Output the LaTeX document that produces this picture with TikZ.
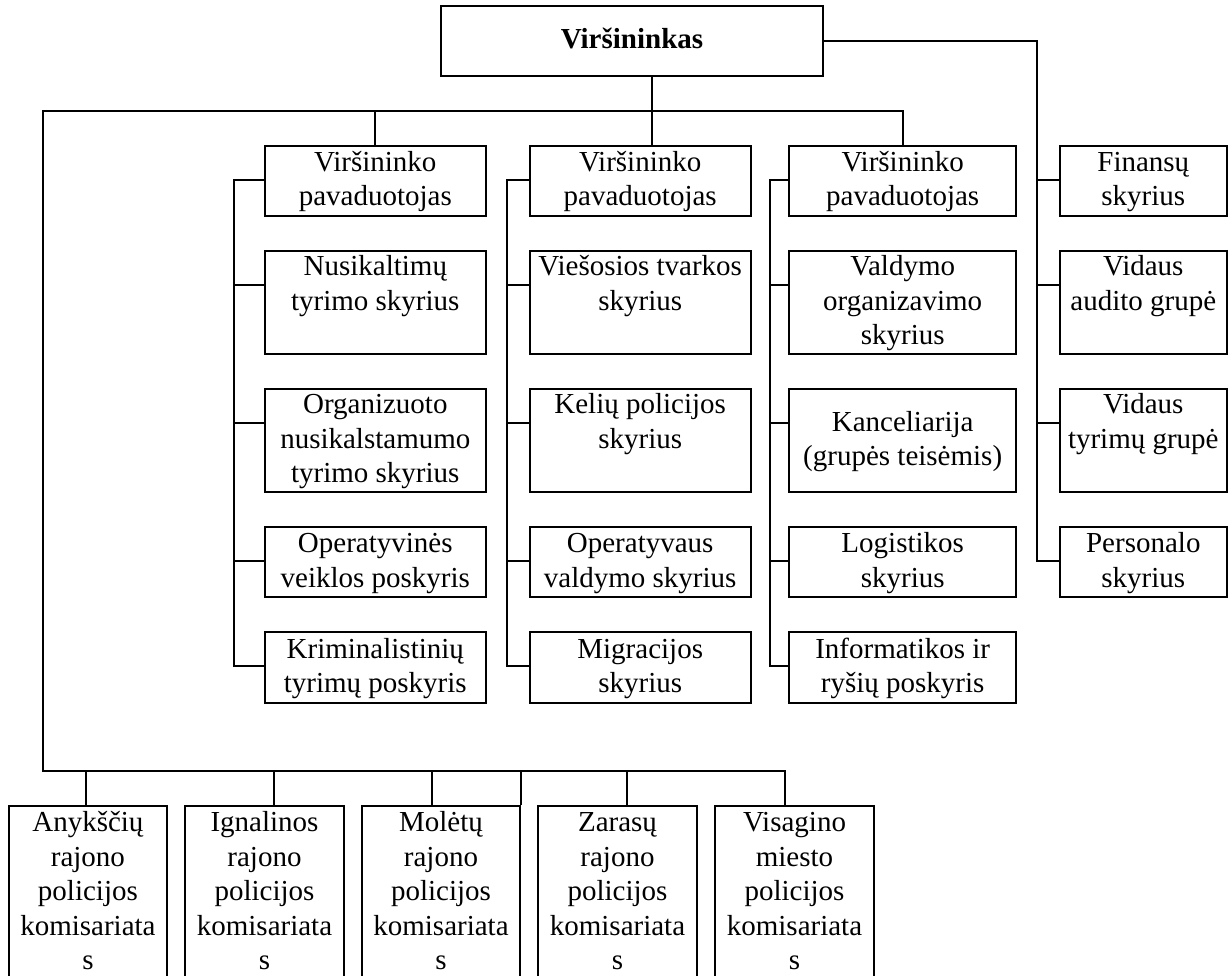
\documentclass[tikz,border=0pt]{standalone}
\usepackage{fontspec}
\setmainfont{Liberation Serif}
\newcommand{\ls}{\rule[-9.5pt]{0pt}{34.5pt}}
\begin{document}
\begin{tikzpicture}[x=1pt,y=-1pt,
  box/.style={draw, line width=2pt, inner sep=0pt, align=center,
    font=\fontsize{29}{34.5}\selectfont},
  conn/.style={line width=2pt}]
\path[use as bounding box] (0,0) rectangle (1232,976);
\clip (0,0) rectangle (1232,976);
\fill[white] (0,0) rectangle (1232,976);

% top box
\node[box, minimum width=382pt, minimum height=70.3pt] (T) at (632,40.85) {\ls\textbf{Viršininkas}};

% column 1
\node[box, minimum width=221pt, minimum height=70pt]  (A1) at (375.3,181)   {\ls Viršininko\\\ls pavaduotojas};
\node[box, minimum width=221pt, minimum height=101pt] (A2) at (375.3,302.5) {\ls Nusikaltimų\\\ls tyrimo skyrius\\\ls};
\node[box, minimum width=221pt, minimum height=103pt] (A3) at (375.3,440.5) {\ls Organizuoto\\\ls nusikalstamumo\\\ls tyrimo skyrius};
\node[box, minimum width=221pt, minimum height=70pt]  (A4) at (375.3,562)   {\ls Operatyvinės\\\ls veiklos poskyris};
\node[box, minimum width=221pt, minimum height=71pt]  (A5) at (375.3,667.5) {\ls Kriminalistinių\\\ls tyrimų poskyris};

% column 2
\node[box, minimum width=221pt, minimum height=70pt]  (B1) at (640.2,181)   {\ls Viršininko\\\ls pavaduotojas};
\node[box, minimum width=221pt, minimum height=101pt] (B2) at (640.2,302.5) {\ls Viešosios tvarkos\\\ls skyrius\\\ls};
\node[box, minimum width=221pt, minimum height=103pt] (B3) at (640.2,440.5) {\ls Kelių policijos\\\ls skyrius\\\ls};
\node[box, minimum width=221pt, minimum height=70pt]  (B4) at (640.2,562)   {\ls Operatyvaus\\\ls valdymo skyrius};
\node[box, minimum width=221pt, minimum height=71pt]  (B5) at (640.2,667.5) {\ls Migracijos\\\ls skyrius};

% column 3
\node[box, minimum width=226.6pt, minimum height=70pt]  (C1) at (902.7,181)   {\ls Viršininko\\\ls pavaduotojas};
\node[box, minimum width=226.6pt, minimum height=101pt] (C2) at (902.7,302.5) {\ls Valdymo\\\ls organizavimo\\\ls skyrius};
\node[box, minimum width=226.6pt, minimum height=103pt] (C3) at (902.7,440.5) {\ls Kanceliarija\\\ls (grupės teisėmis)};
\node[box, minimum width=226.6pt, minimum height=70pt]  (C4) at (902.7,562)   {\ls Logistikos\\\ls skyrius};
\node[box, minimum width=226.6pt, minimum height=71pt]  (C5) at (902.7,667.5) {\ls Informatikos ir\\\ls ryšių poskyris};

% column 4
\node[box, minimum width=167.4pt, minimum height=70pt]  (F1) at (1143.3,181)   {\ls Finansų\\\ls skyrius};
\node[box, minimum width=167.4pt, minimum height=101pt] (F2) at (1143.3,302.5) {\ls Vidaus\\\ls audito grupė\\\ls};
\node[box, minimum width=167.4pt, minimum height=103pt] (F3) at (1143.3,440.5) {\ls Vidaus\\\ls tyrimų grupė\\\ls};
\node[box, minimum width=167.4pt, minimum height=70pt]  (F4) at (1143.3,562)   {\ls Personalo\\\ls skyrius};

% bottom row
\node[box, minimum width=158pt, minimum height=174.5pt] (P1) at (87.9,892.95)  {\ls Anykščių\\\ls rajono\\\ls policijos\\\ls komisariata\\\ls s};
\node[box, minimum width=159pt, minimum height=174.5pt] (P2) at (264.5,892.95) {\ls Ignalinos\\\ls rajono\\\ls policijos\\\ls komisariata\\\ls s};
\node[box, minimum width=158pt, minimum height=174.5pt] (P3) at (441,892.95)   {\ls Molėtų\\\ls rajono\\\ls policijos\\\ls komisariata\\\ls s};
\node[box, minimum width=159pt, minimum height=174.5pt] (P4) at (617.5,892.95) {\ls Zarasų\\\ls rajono\\\ls policijos\\\ls komisariata\\\ls s};
\node[box, minimum width=159pt, minimum height=174.5pt] (P5) at (794.5,892.95) {\ls Visagino\\\ls miesto\\\ls policijos\\\ls komisariata\\\ls s};

% bus coordinates
\coordinate (tl) at (42.5,111);
\coordinate (tj) at (651.6,111);
\coordinate (bl) at (42.5,770.7);
\coordinate (b1) at (85.8,770.7);
\coordinate (b2) at (273.5,770.7);
\coordinate (b3) at (432,770.7);
\coordinate (b4) at (627,770.7);
\coordinate (b5) at (785,770.7);

% top connections
\draw[conn] (T.south -| tj) -- (B1.north -| tj);
\draw[conn] (C1.north) |- (tl) -- (bl) -- (b5) -- (P5.north -| b5);
\draw[conn] (A1.north) -- (A1.north |- tl);

% bottom drops
\draw[conn] (b1) -- (P1.north -| b1);
\draw[conn] (b2) -- (P2.north -| b2);
\draw[conn] (b3) -- (P3.north -| b3);
\draw[conn] (b4) -- (P4.north -| b4);
\draw[conn] (P3.north east |- bl) -- (P3.north east);

% column trunks
\draw[conn] ([yshift=-35pt]A1.north west) -- ++(-30,0) |- ([yshift=-35pt]A5.north west);
\foreach \n in {A2,A3,A4} \draw[conn] ([yshift=-35pt]\n.north west) -- ++(-30,0);
\draw[conn] ([yshift=-35pt]B1.north west) -- ++(-22,0) |- ([yshift=-35pt]B5.north west);
\foreach \n in {B2,B3,B4} \draw[conn] ([yshift=-35pt]\n.north west) -- ++(-22,0);
\draw[conn] ([yshift=-35pt]C1.north west) -- ++(-18,0) |- ([yshift=-35pt]C5.north west);
\foreach \n in {C2,C3,C4} \draw[conn] ([yshift=-35pt]\n.north west) -- ++(-18,0);

% right side
\draw[conn] (T.east) -| ([xshift=-22pt,yshift=-35pt]F4.north west) -- ([yshift=-35pt]F4.north west);
\foreach \n in {F1,F2,F3} \draw[conn] ([yshift=-35pt]\n.north west) -- ++(-22,0);
\end{tikzpicture}
\end{document}
